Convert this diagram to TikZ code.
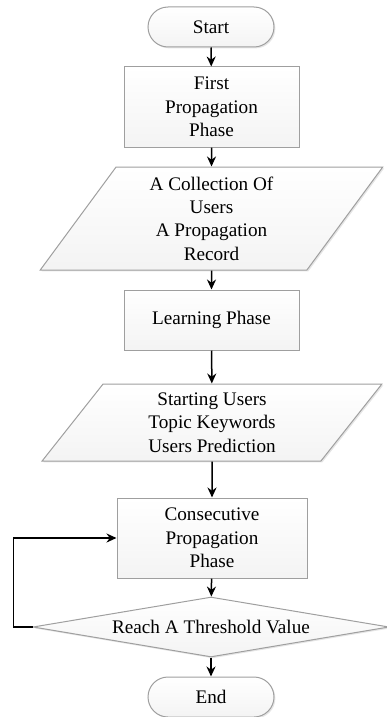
\documentclass[tikz,border=0pt]{standalone}
\usepackage{fontspec}
\setmainfont{Liberation Serif}
\usetikzlibrary{shapes.geometric,arrows.meta,shadows}

\tikzset{
  block/.style={draw=gray!75, line width=0.5pt, top color=white, bottom color=gray!9,
    align=center, font=\fontsize{9.6}{11.7}\selectfont,
    drop shadow={shadow xshift=0.7pt, shadow yshift=-0.7pt, fill=gray!40, opacity=0.5}},
  term/.style={block, rounded corners=10pt, minimum width=63pt, minimum height=20pt},
  procbox/.style={block, minimum width=87.5pt, minimum height=40pt},
  iobox/.style={block, trapezium, trapezium left angle=60, trapezium right angle=120,
    trapezium stretches=true, inner sep=1pt},
  decision/.style={block, diamond, aspect=6, inner sep=1pt},
  flow/.style={-{Stealth[length=5pt,width=4.5pt]}, line width=0.75pt}
}

\begin{document}
\begin{tikzpicture}[x=0.5pt,y=-0.5pt]

	%The frame of the page
	\useasboundingbox (0,0) rectangle (386,717);

    \node[term] (start) at (211,27) {Start};
    \node[procbox] (first) at (211.5,107) {First\\Propagation\\Phase};
    \node[iobox, minimum width=171.5pt, minimum height=51.5pt] (collect) at (211.5,218.5)
        {A Collection Of\\Users\\A Propagation\\Record};
    \node[procbox, minimum height=30pt] (learn) at (211.5,320) {Learning Phase};
    \node[iobox, minimum width=170pt, minimum height=38.5pt] (input) at (212,422.5)
        {Starting Users\\Topic Keywords\\Users Prediction};
    \node[procbox, minimum width=95pt] (consec) at (212,538) {Consecutive\\Propagation\\Phase};
    \node[decision, minimum width=178pt, minimum height=30pt] (reach) at (211,627)
        {Reach A Threshold Value};
    \node[term] (end) at (211,697) {End};

    %The arrows down the chart
    \draw[flow] (start) -- (first);
    \draw[flow] (first) -- (collect);
    \draw[flow] (collect) -- (learn);
    \draw[flow] (learn) -- (input);
    \draw[flow] (input) -- (consec);
    \draw[flow] (consec) -- (reach);
    \draw[flow] (reach) -- (end);

    %The loop back
    \draw[flow] (reach.west) -- ++(-19,0) |- (consec.west);

\end{tikzpicture}
\end{document}
